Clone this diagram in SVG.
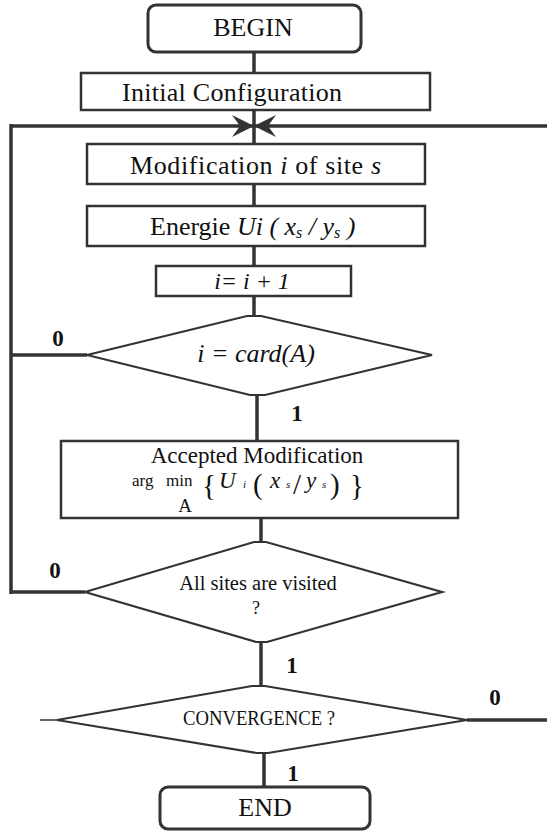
<svg xmlns="http://www.w3.org/2000/svg" width="547" height="832" viewBox="0 0 547 832" font-family="'Liberation Serif', 'Times New Roman', Times, 'DejaVu Serif', serif">
  <style>
    text { font-family: "Liberation Serif", "Times New Roman", Times, "DejaVu Serif", serif; fill: #111; }
    .box { fill: #fff; stroke: #333; stroke-width: 2.5; }
    .term { fill: #fff; stroke: #333; stroke-width: 3; }
    .dia { fill: #fff; stroke: #333; stroke-width: 2.2; stroke-linejoin: miter; }
    .wire { fill: none; stroke: #333; stroke-width: 3.5; }
    .thin { fill: none; stroke: #333; stroke-width: 1.5; }
    .lbl { font-weight: bold; font-size: 23px; text-anchor: middle; }
    .it { font-style: italic; }
  </style>
  <defs>
    <path id="barb" d="M0,0 L-22,-11 L-14,0 L-22,11 Z" fill="#333"/>
  </defs>

  <!-- connectors -->
  <g id="connectors">
    <line class="wire" x1="254" y1="52" x2="254" y2="73"/>
    <line class="wire" x1="254" y1="110" x2="254" y2="144"/>
    <!-- loop return line across the top -->
    <line class="wire" x1="11" y1="126" x2="547" y2="126" stroke-width="4"/>
    <line class="wire" x1="11" y1="124" x2="11" y2="594" stroke-width="4"/>
    <use href="#barb" x="254" y="126"/>
    <use href="#barb" transform="translate(254,126) scale(-1,1)"/>
    <line class="wire" x1="254" y1="184" x2="254" y2="206"/>
    <line class="wire" x1="254" y1="246" x2="254" y2="266"/>
    <line class="wire" x1="254" y1="296" x2="254" y2="316"/>
    <line class="wire" x1="11" y1="355" x2="87" y2="355"/>
    <line class="wire" x1="257" y1="395" x2="257" y2="441"/>
    <line class="wire" x1="261" y1="518" x2="261" y2="543"/>
    <line class="wire" x1="11" y1="592" x2="85" y2="592"/>
    <line class="wire" x1="261" y1="642" x2="261" y2="687"/>
    <line class="wire" x1="467" y1="720" x2="547" y2="720"/>
    <line class="thin" x1="40" y1="720" x2="58" y2="720"/>
    <line class="wire" x1="264" y1="753" x2="264" y2="787"/>
    <text class="lbl" x="58" y="346">0</text>
    <text class="lbl" x="297" y="421">1</text>
    <text class="lbl" x="55" y="578">0</text>
    <text class="lbl" x="292" y="673">1</text>
    <text class="lbl" x="495" y="705">0</text>
    <text class="lbl" x="293" y="781">1</text>
  </g>

  <g id="begin">
    <rect class="term" x="148" y="5" width="213" height="47" rx="8"/>
    <text x="253" y="36" font-size="26" text-anchor="middle">BEGIN</text>
  </g>

  <g id="init">
    <rect class="box" x="81" y="73" width="349" height="37"/>
    <text x="122" y="101" font-size="26" textLength="220">Initial Configuration</text>
  </g>

  <g id="modification">
    <rect class="box" x="87" y="144" width="338" height="40"/>
    <text x="130" y="174" font-size="26" textLength="251">Modification <tspan class="it">i</tspan> of site <tspan class="it">s</tspan></text>
  </g>

  <g id="energy">
    <rect class="box" x="87" y="206" width="338" height="40"/>
    <text x="150" y="235" font-size="26">Energie <tspan class="it">Ui ( x</tspan><tspan class="it" font-size="16" dy="3">s</tspan><tspan class="it" dy="-3"> / y</tspan><tspan class="it" font-size="16" dy="3">s</tspan><tspan class="it" dy="-3"> )</tspan></text>
  </g>

  <g id="increment">
    <rect class="box" x="156" y="266" width="195" height="30"/>
    <text class="it" x="252" y="289" font-size="24" text-anchor="middle">i= i + 1</text>
  </g>

  <g id="test-card">
    <polygon class="dia" points="87,355 247,316 261,316 432,355 265,395 250,395"/>
    <text class="it" x="256" y="362" font-size="26" text-anchor="middle">i = card(A)</text>
  </g>

  <g id="accepted">
    <rect class="box" x="61" y="441" width="397" height="77"/>
    <text x="257" y="463" font-size="23" text-anchor="middle">Accepted Modification</text>
    <text x="132" y="486" font-size="17">arg</text>
    <text x="166" y="486" font-size="17">min</text>
    <text x="185" y="512" font-size="19" text-anchor="middle">A</text>
    <text x="202" y="495" font-size="29">{</text>
    <text class="it" x="219" y="488" font-size="23">U</text>
    <text class="it" x="243" y="488" font-size="11">i</text>
    <text x="253" y="494" font-size="29">(</text>
    <text class="it" x="270" y="488" font-size="23">x</text>
    <text class="it" x="286" y="488" font-size="11">s</text>
    <text x="293" y="494" font-size="29">/</text>
    <text class="it" x="306" y="488" font-size="23">y</text>
    <text class="it" x="322" y="488" font-size="11">s</text>
    <text x="330" y="494" font-size="29">)</text>
    <text x="350" y="495" font-size="29">}</text>
  </g>

  <g id="test-visited">
    <polygon class="dia" points="85,592 254,542 266,542 442,592 267,642 256,642"/>
    <text x="258" y="590" font-size="20.5" text-anchor="middle">All sites are visited</text>
    <text x="256" y="614" font-size="18" text-anchor="middle">?</text>
  </g>

  <g id="test-convergence">
    <polygon class="dia" points="57,720 252,686 265,686 467,720 268,753 257,753"/>
    <text x="259" y="725" font-size="20" text-anchor="middle" textLength="152" lengthAdjust="spacingAndGlyphs">CONVERGENCE ?</text>
  </g>

  <g id="end">
    <rect class="term" x="160" y="787" width="210" height="42" rx="8"/>
    <text x="265" y="816" font-size="26" text-anchor="middle">END</text>
  </g>
</svg>
